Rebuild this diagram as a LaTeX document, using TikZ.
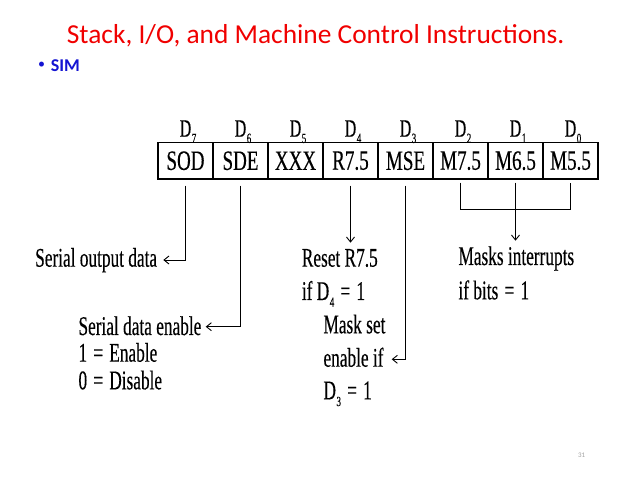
\documentclass[tikz,border=0pt]{standalone}
\usepackage{fontspec}
\setmainfont{Liberation Serif}
\newfontfamily\scanfont[FakeStretch=0.64,FakeBold=0.3]{Liberation Serif}
\newfontfamily\boxfont[FakeStretch=0.68,FakeBold=0.3]{Liberation Serif}
\newfontfamily\slidefont{Carlito}
\usetikzlibrary{arrows.meta}
\definecolor{titlered}{RGB}{240,0,0}
\definecolor{simblue}{RGB}{20,20,210}
\definecolor{pagegray}{RGB}{160,160,160}
\newcommand{\Dsb}[1]{D\kern0.02em\raisebox{-0.25em}{\fontsize{14}{14}\selectfont #1}}
\newcommand{\eqs}{\hspace{0.07em}=\hspace{0.07em}}
\tikzset{
  cell/.style={draw, line width=1.2pt, minimum width=55pt, minimum height=36.5pt, inner sep=0pt,
    font=\boxfont\fontsize{28}{28}\selectfont},
  bitlbl/.style={anchor=base, inner sep=0pt, font=\scanfont\fontsize{25}{25}\selectfont},
  txt/.style={anchor=base west, inner sep=0pt, font=\scanfont\fontsize{27}{27}\selectfont},
  wire/.style={line width=0.9pt},
  arr/.style={line width=0.9pt, -{Straight Barb[length=5pt,width=8pt,line width=0.9pt]}},
}
\begin{document}
\begin{tikzpicture}[x=1pt,y=-1pt]
\useasboundingbox (0,0) rectangle (638,478);
% title
\node[anchor=base west, inner sep=0pt, text=titlered, font=\slidefont\fontsize{27.4}{27.4}\selectfont] (title) at (66.7,43.3) {Stack, I/O, and Machine Control Instructions.};
\node[inner sep=0pt, text=simblue, font=\slidefont\fontsize{14}{14}\selectfont] (bullet) at (41.7,65.5) {•};
\node[anchor=base west, inner sep=0pt, text=simblue, font=\slidefont\bfseries\fontsize{18}{18}\selectfont] (sim) at (50.7,71.7) {SIM};
% register
\node[cell] (sod) at (185.5,160.75) {SOD};
\node[cell] (sde) at (240.5,160.75) {SDE};
\node[cell] (xxx) at (295.5,160.75) {XXX};
\node[cell] (r75) at (350.5,160.75) {R7.5};
\node[cell] (mse) at (405.5,160.75) {MSE};
\node[cell] (m75) at (460.5,160.75) {M7.5};
\node[cell] (m65) at (515.5,160.75) {M6.5};
\node[cell] (m55) at (570.5,160.75) {M5.5};
% bit labels
\node[bitlbl] (d7) at (188,136.7) {\Dsb{7}};
\node[bitlbl] (d6) at (243,136.7) {\Dsb{6}};
\node[bitlbl] (d5) at (298,136.7) {\Dsb{5}};
\node[bitlbl] (d4) at (353,136.7) {\Dsb{4}};
\node[bitlbl] (d3) at (408,136.7) {\Dsb{3}};
\node[bitlbl] (d2) at (463,136.7) {\Dsb{2}};
\node[bitlbl] (d1) at (518,136.7) {\Dsb{1}};
\node[bitlbl] (d0) at (573,136.7) {\Dsb{0}};
% descriptions
\node[txt] (lsod) at (35,266.7) {Serial output data};
\node[txt] (lsde) at (78.3,335) {Serial data enable};
\node[txt] (lsde1) at (78.3,361.7) {1 \eqs{} Enable};
\node[txt] (lsde0) at (78.3,389.3) {0 \eqs{} Disable};
\node[txt] (lr75) at (301.7,266.7) {Reset R7.5};
\node[txt] (lr75b) at (301.7,300) {if \Dsb{4} \eqs{} 1};
\node[txt] (lmse) at (323.3,333.3) {Mask set};
\node[txt] (lmseb) at (323.3,366.7) {enable if};
\node[txt] (lmsec) at (323.3,399.3) {\Dsb{3} \eqs{} 1};
\node[txt] (lm) at (458.3,265) {Masks interrupts};
\node[txt] (lmb) at (458.3,299.3) {if bits \eqs{} 1};
% connector ends
\coordinate (tsod) at (163.3,260);
\coordinate (tsde) at (205.7,326.7);
\coordinate (tr75) at (350.5,242.7);
\coordinate (tmse) at (391.7,359.3);
\coordinate (brk) at (515.5,209.3);
\coordinate (tm) at (515.5,240.7);
% connectors
\draw[arr] ([yshift=-6pt]sod.south) |- (tsod);
\draw[arr] ([yshift=-6pt]sde.south) |- (tsde);
\draw[arr] ([yshift=-6pt]r75.south) -- (tr75);
\draw[arr] ([yshift=-6pt]mse.south) |- (tmse);
\draw[wire] ([yshift=-3pt]m75.south) |- (brk) -| ([yshift=-3pt]m55.south);
\draw[wire] ([yshift=-3pt]m65.south) -- (brk);
\draw[arr] (brk) -- (tm);
% page number
\node[anchor=base, inner sep=0pt, text=pagegray, font=\slidefont\fontsize{7}{7}\selectfont] (page) at (581.7,458) {31};
\end{tikzpicture}
\end{document}
